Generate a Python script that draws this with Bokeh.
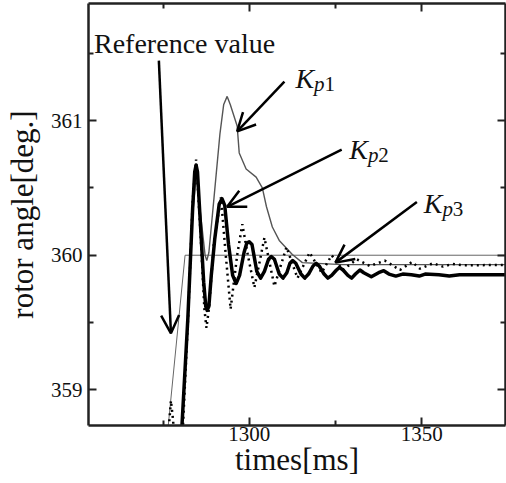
from bokeh.plotting import figure
from bokeh.models import Range1d, FixedTicker, LinearAxis, Arrow, OpenHead, Label
from bokeh.embed import file_html
from bokeh.resources import INLINE

# ---- data ----
ref_t = [1276.0, 1281.4, 1375.0]
ref_y = [358.60, 360.00, 360.00]

kp1_t = [1280.0, 1280.5, 1282.2, 1283.6, 1284.6, 1285.7, 1287.2, 1287.7, 1288.3, 1289.8,
         1291.5, 1292.6, 1293.6, 1294.5, 1296.5, 1297.1, 1299.1, 1302.0, 1303.8, 1305.0,
         1306.7, 1308.7, 1312.5, 1315.4, 1327.0, 1375.0]
kp1_y = [358.50, 358.735, 359.50, 360.30, 360.60, 360.35, 360.00, 359.96, 360.02, 360.43,
         360.90, 361.12, 361.18, 361.12, 360.96, 360.76, 360.64, 360.58, 360.50, 360.36,
         360.21, 360.11, 360.005, 359.945, 359.93, 359.93]

kp2_t = [1279.8, 1280.5, 1282.2, 1283.6, 1284.2, 1284.6, 1285.0, 1285.7, 1286.8, 1287.4,
         1287.8, 1288.3, 1289.0, 1290.0, 1291.3, 1292.1, 1292.9, 1294.0, 1295.2, 1296.2,
         1297.2, 1298.5, 1299.3, 1300.0, 1300.8, 1302.2, 1303.3, 1304.4, 1305.6, 1306.4,
         1307.3, 1308.7, 1309.8, 1310.9, 1311.8, 1312.6, 1313.5, 1315.0, 1316.1, 1317.2,
         1318.5, 1319.4, 1320.3, 1321.7, 1322.8, 1323.9, 1325.3, 1326.2, 1327.2, 1328.6,
         1329.7, 1330.8, 1332.1, 1333.2, 1335.4, 1337.5, 1339.0, 1340.5, 1342.5, 1344.5,
         1347.0, 1349.3, 1351.0, 1355.0, 1358.0, 1361.0, 1375.0]
kp2_y = [358.40, 358.735, 359.53, 360.35, 360.62, 360.67, 360.62, 360.30, 359.80, 359.62,
         359.59, 359.62, 359.85, 360.12, 360.38, 360.42, 360.37, 360.08, 359.85, 359.79,
         359.85, 360.02, 360.09, 360.10, 360.08, 359.88, 359.83, 359.88, 359.97, 359.99,
         359.97, 359.86, 359.83, 359.87, 359.94, 359.96, 359.94, 359.86, 359.83, 359.86,
         359.92, 359.94, 359.92, 359.86, 359.83, 359.85, 359.89, 359.91, 359.89, 359.85,
         359.83, 359.86, 359.89, 359.87, 359.84, 359.87, 359.885, 359.86, 359.845, 359.86,
         359.855, 359.845, 359.86, 359.855, 359.845, 359.855, 359.855]

kp3_t = [1276.0, 1277.3, 1277.9, 1278.4, 1280.4, 1280.8, 1282.3, 1283.6, 1284.6, 1285.8,
         1287.0, 1287.6, 1288.3, 1289.8, 1291.8, 1293.2, 1294.6, 1296.5, 1298.0, 1299.6,
         1301.5, 1303.0, 1304.4, 1307.3, 1310.8, 1314.0, 1317.5, 1321.0, 1323.9, 1327.1,
         1331.2, 1335.0, 1339.3, 1343.7, 1347.2, 1349.5, 1353.3, 1356.2, 1358.8, 1362.0,
         1375.0]
kp3_y = [358.50, 358.92, 358.78, 358.60, 358.60, 358.735, 359.55, 360.40, 360.71, 360.20,
         359.60, 359.46, 359.60, 360.10, 360.43, 360.00, 359.60, 360.00, 360.23, 360.00,
         359.76, 359.95, 360.13, 359.77, 360.06, 359.83, 360.02, 359.87, 360.00, 359.89,
         359.97, 359.92, 359.96, 359.89, 359.95, 359.90, 359.94, 359.915, 359.935, 359.925,
         359.928]

x_major = [1300, 1350]
x_minor = [1275, 1325]
y_major = [359, 360, 361]
y_minor = [359.5, 360.5, 361.5]

FONT = "Liberation Serif"
AX = "#222222"

p = figure(width=506, height=479, output_backend="svg", toolbar_location=None,
           x_range=Range1d(1253.4, 1374.3), y_range=Range1d(358.735, 361.87),
           min_border_left=88, min_border_right=1, min_border_top=3, min_border_bottom=50)
p.grid.visible = False
p.outline_line_color = None
p.background_fill_color = "white"
p.border_fill_color = "white"

def style_axis(ax, ticks, minor, labels=True):
    ax.ticker = FixedTicker(ticks=ticks, minor_ticks=minor)
    ax.axis_line_color = AX
    ax.axis_line_width = 2.5
    ax.major_tick_line_color = AX
    ax.major_tick_line_width = 2
    ax.major_tick_in = 8
    ax.major_tick_out = 0
    ax.minor_tick_line_color = AX
    ax.minor_tick_line_width = 2
    ax.minor_tick_in = 5
    ax.minor_tick_out = 0
    ax.major_label_text_font = FONT
    ax.major_label_text_color = "#111111"
    ax.axis_label_text_font = FONT
    ax.axis_label_text_font_style = "normal"
    ax.axis_label_text_color = "#111111"
    if labels:
        ax.major_label_text_font_size = "21px"
        ax.axis_label_text_font_size = "31px"
    else:
        ax.major_label_text_font_size = "0px"
        ax.major_label_standoff = 0
        ax.axis_label = None

style_axis(p.xaxis[0], x_major, x_minor)
style_axis(p.yaxis[0], y_major, y_minor)
p.xaxis[0].axis_label = "times[ms]"
p.yaxis[0].axis_label = "rotor angle[deg.]"
p.xaxis[0].major_label_standoff = 1
p.xaxis[0].axis_label_standoff = -2
p.yaxis[0].major_label_standoff = 6
p.yaxis[0].axis_label_standoff = 8

top = LinearAxis()
style_axis(top, x_major, x_minor, labels=False)
p.add_layout(top, "above")
right = LinearAxis()
style_axis(right, y_major, y_minor, labels=False)
p.add_layout(right, "right")

# curves
p.line(ref_t, ref_y, line_color="#666666", line_width=1)
p.line(kp1_t, kp1_y, line_color="#555555", line_width=1.4)
p.line(kp2_t, kp2_y, line_color="black", line_width=3.5, line_join="round")
p.line(kp3_t, kp3_y, line_color="black", line_width=2.5, line_dash="2 4")

# arrows
arrows = [
    (1273.8, 361.446, 1277.3, 359.42),
    (1310.2, 361.29, 1296.5, 360.92),
    (1326.8, 360.785, 1293.6, 360.36),
    (1348.6, 360.395, 1325.0, 359.945),
]
for xs, ys, xe, ye in arrows:
    p.add_layout(Arrow(end=OpenHead(size=18, line_width=2.5, line_color="black"),
                       x_start=xs, y_start=ys, x_end=xe, y_end=ye,
                       line_width=2.5, line_color="black"))

def lab(x, y, t, size, style="normal"):
    p.add_layout(Label(x=x, y=y, text=t, text_font=FONT, text_font_size=size,
                       text_font_style=style, text_color="#111111",
                       text_baseline="alphabetic", text_align="left"))

lab(1255.0, 361.573, "Reference value", "28px")
for kx, ky, px_, py_, num, n in [
        (1313.4, 361.31, 1318.8, 361.273, 1321.8, "1"),
        (1329.0, 360.785, 1334.4, 360.748, 1337.4, "2"),
        (1350.6, 360.383, 1356.0, 360.345, 1359.0, "3")]:
    lab(kx, ky, "K", "28px", "italic")
    lab(px_, py_, "p", "21px", "italic")
    lab(num, py_, n, "21px")

open("out.html", "w").write(file_html(p, INLINE))
